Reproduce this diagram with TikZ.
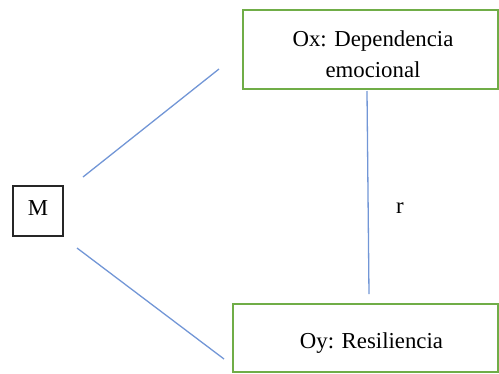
\documentclass[tikz,border=0pt]{standalone}
\usepackage{fontspec}
\setmainfont{Liberation Serif}
\definecolor{gline}{RGB}{112,173,71}
\definecolor{bline}{RGB}{114,150,214}
\tikzset{
  gbox/.style={draw=gline, line width=2.7pt, inner sep=0pt},
  mbox/.style={draw=black!85, line width=1.3pt, inner sep=0pt, minimum size=50pt, text height=15pt, text depth=7pt},
  txt/.style={inner sep=0pt, align=center, font=\fontsize{22.8}{31}\selectfont},
  link/.style={draw=bline, line width=1.3pt}
}
\begin{document}
\begin{tikzpicture}[x=1pt,y=-1pt]
\useasboundingbox (0,0) rectangle (499,373);
% boxes
\node[gbox, minimum width=255pt, minimum height=79pt] (oxbox) at (370.5,49.5) {};
\node[txt] (oxtxt) at (373,53.8) {Ox: Dependencia\\emocional};
\node[gbox, minimum width=265pt, minimum height=68pt] (oybox) at (365.5,338) {};
\node[txt, anchor=base] (oytxt) at (371.5,348) {Oy: Resiliencia};
\node[mbox, font=\fontsize{22.8}{27}\selectfont] (m) at (38,211) {M};
\node[txt, anchor=base] (r) at (400,213) {r};
% connector ends
\coordinate (a1) at (83,177);
\coordinate (a2) at (219,69);
\coordinate (b1) at (77,248);
\coordinate (b2) at (224,359);
\coordinate (c1) at (367,91);
\coordinate (c2) at (369,294);
\draw[link] (a1) -- (a2);
\draw[link] (b1) -- (b2);
\draw[link] (c1) -- (c2);
\end{tikzpicture}
\end{document}
